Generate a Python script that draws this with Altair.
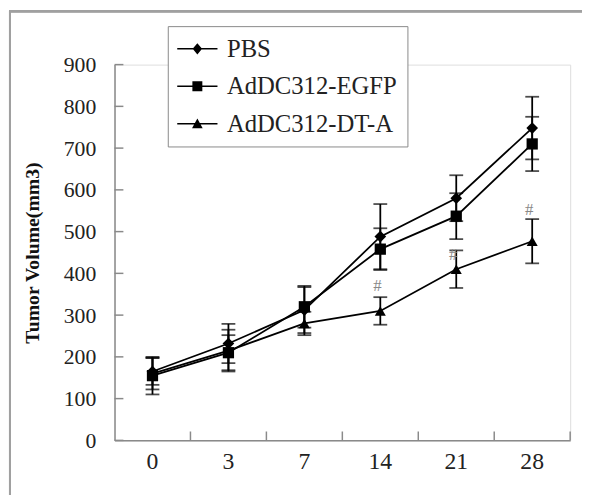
import altair as alt
import pandas as pd

days = ["0", "3", "7", "14", "21", "28"]
series_names = ["PBS", "AdDC312-EGFP", "AdDC312-DT-A"]
pbs = [165, 232, 312, 488, 580, 748]
pbs_err = [32, 47, 55, 78, 55, 75]
egfp = [155, 210, 320, 458, 537, 710]
egfp_err = [45, 42, 50, 50, 55, 65]
dta = [160, 215, 280, 310, 410, 477]
dta_err = [38, 50, 28, 33, 45, 53]
hash_days = ["14", "21", "28"]
hash_y = [370, 445, 552]
y_ticks = [0, 100, 200, 300, 400, 500, 600, 700, 800, 900]

rows = []
for name, vals, errs in zip(series_names, [pbs, egfp, dta], [pbs_err, egfp_err, dta_err]):
    for d, v, e in zip(days, vals, errs):
        rows.append({"day": d, "series": name, "value": v, "lo": v - e, "hi": v + e})
df = pd.DataFrame(rows)
hash_df = pd.DataFrame({"day": hash_days, "y": hash_y, "t": ["#"] * len(hash_days)})
tick_df = pd.DataFrame({"v": y_ticks})
day_df = pd.DataFrame({"day": days})

W, H = 462, 381
AX = "#8a8a8a"
SERIF = "Liberation Serif, Times New Roman, serif"

xscale = alt.Scale(domain=days, paddingInner=0, paddingOuter=0)
yscale = alt.Scale(domain=[0, 900], nice=False)

x_main = alt.X("day:O", scale=xscale, sort=days,
               axis=alt.Axis(title=None, labelAngle=0, ticks=False, tickSize=0,
                             labelFont=SERIF, labelFontSize=24, labelColor="#222",
                             labelPadding=10, domainColor=AX, domainWidth=1.5, grid=False))
y_main = alt.Y("value:Q", scale=yscale,
               axis=alt.Axis(title="Tumor Volume(mm3)", values=y_ticks, ticks=False, tickSize=0,
                             labelFont=SERIF, labelFontSize=22, labelColor="#222",
                             labelPadding=19, domainColor=AX, domainWidth=1.5, grid=False,
                             titleFont=SERIF, titleFontSize=20, titleFontWeight="bold",
                             titleColor="#111", titlePadding=21))


def X(field="day:O", **kw):
    return alt.X(field, scale=xscale, sort=days, **kw)


def Y(field):
    return alt.Y(field, scale=yscale)


base = alt.Chart(df)

lines = base.mark_line(color="black", strokeWidth=1.8).encode(
    x=x_main, y=y_main, detail="series:N")

err = base.mark_rule(color="black", strokeWidth=1.8).encode(x=X(), y=Y("lo:Q"), y2="hi:Q")
cap_lo = base.mark_tick(color="black", size=14, thickness=1.8, orient="horizontal").encode(
    x=X(), y=Y("lo:Q"))
cap_hi = base.mark_tick(color="black", size=14, thickness=1.8, orient="horizontal").encode(
    x=X(), y=Y("hi:Q"))

marker_shapes = ["diamond", "square", "triangle-up"]
marker_sizes = [140, 130, 125]
point_layers = []
for name, shp, sz in zip(series_names, marker_shapes, marker_sizes):
    point_layers.append(
        base.transform_filter(alt.datum.series == name).mark_point(
            filled=True, color="black", opacity=1, shape=shp, size=sz
        ).encode(x=X(), y=Y("value:Q"))
    )

bar = "M-1.7,-0.065H1.7V0.065H-1.7Z"
legend_paths = [
    bar + "M0,-0.48L0.4,0L0,0.48L-0.4,0Z",
    bar + "M-0.42,-0.42H0.42V0.42H-0.42Z",
    bar + "M0,-0.45L0.45,0.38H-0.45Z",
]
legend_layer = base.transform_filter("false").mark_point(
    filled=True, color="black", opacity=1).encode(
    x=X(), y=Y("value:Q"),
    shape=alt.Shape("series:N", scale=alt.Scale(domain=series_names, range=legend_paths),
                    legend=alt.Legend(title=None, orient="none", legendX=54, legendY=-39)))

hashes = alt.Chart(hash_df).mark_text(font=SERIF, fontSize=17, color="#888", dx=-3).encode(
    x=X(), y=Y("y:Q"), text="t:N")

ytick_marks = alt.Chart(tick_df).mark_rule(color=AX, strokeWidth=1.5).encode(
    x=alt.value(0), x2=alt.value(9), y=Y("v:Q"))
xtick_marks = alt.Chart(day_df).mark_rule(color=AX, strokeWidth=1.5).encode(
    x=X(bandPosition=1), y=alt.value(H), y2=alt.value(H - 9))

frame_left = alt.Chart(day_df).mark_rule(color="#a0a0a0", strokeWidth=2).encode(
    x=alt.value(-106), y=alt.value(-54), y2=alt.value(H + 60))
frame_top = alt.Chart(day_df).mark_rule(color="#a0a0a0", strokeWidth=2).encode(
    x=alt.value(-107), x2=alt.value(W + 40), y=alt.value(-54))

chart = alt.layer(
    frame_left, frame_top, lines, err, cap_lo, cap_hi, *point_layers, legend_layer, hashes,
    ytick_marks, xtick_marks
).properties(
    width=W, height=H,
    autosize=alt.AutoSizeParams(type="none"),
    padding={"left": 108, "top": 54, "right": 12, "bottom": 52},
).configure_view(stroke=None).configure(background="white").configure_legend(
    symbolSize=576, symbolOffset=7, labelOffset=17,
    labelFont=SERIF, labelFontSize=25, labelColor="#222", labelLimit=400,
    symbolFillColor="black", symbolOpacity=1, rowPadding=12, padding=10,
    strokeColor="#888", fillColor="white",
)

chart.save("out.html", embed_options={"renderer": "svg", "actions": False})
